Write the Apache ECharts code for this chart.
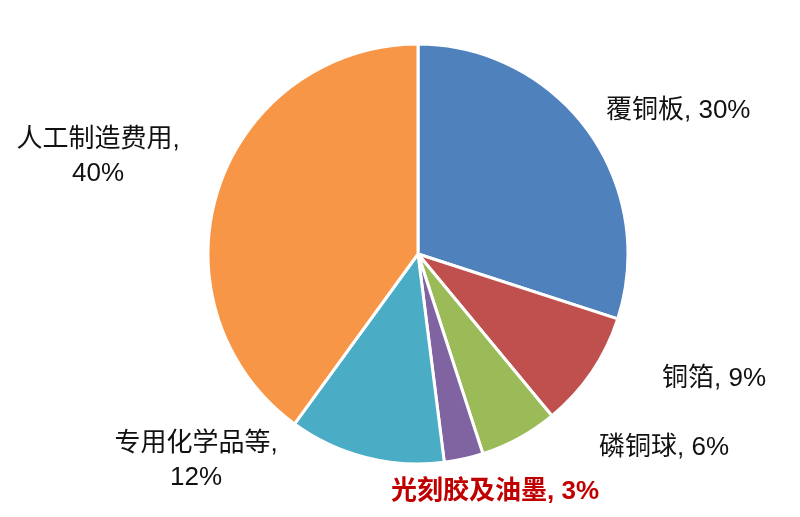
<!DOCTYPE html>
<html><head><meta charset="utf-8">
<script src="https://cdn.jsdelivr.net/npm/echarts@6/dist/echarts.min.js"></script>
<style>html,body{margin:0;padding:0;background:#fff}#c{width:800px;height:517px}</style>
</head><body><div id="c"></div>
<script>
const categories = ['覆铜板', '铜箔', '磷铜球', '光刻胶及油墨', '专用化学品等', '人工制造费用'];
const values = [30, 9, 6, 3, 12, 40];
const colors = ['#4F81BD', '#C0504D', '#9BBB59', '#8064A2', '#4BACC6', '#F79646'];
const breakLine = [false, false, false, false, true, true];
const highlight = [false, false, false, true, false, false];

// label anchor positions (layout only)
const labelPos = [
  {x: 606, y: 111, align: 'left'},
  {x: 662, y: 379, align: 'left'},
  {x: 599, y: 448, align: 'left'},
  {x: 391, y: 492, align: 'left'},
  {x: 196, y: 461, align: 'center'},
  {x: 98, y: 157, align: 'center'}
];

const FONT = '"Liberation Sans", "Noto Sans CJK SC", sans-serif';
const chart = echarts.init(document.getElementById('c'));
chart.setOption({
  animation: false,
  series: [{
    type: 'pie',
    center: [418, 254],
    radius: [0, 210],
    startAngle: 90,
    clockwise: true,
    avoidLabelOverlap: false,
    data: categories.map((n, i) => ({
      name: n, value: values[i],
      itemStyle: {color: colors[i]}
    })),
    itemStyle: {borderColor: '#fff', borderWidth: 3},
    label: {
      show: true,
      position: 'outside',
      overflow: 'none',
      fontFamily: FONT,
      fontSize: 22,
      color: '#000',
      lineHeight: 34,
      rich: {
        c: {fontFamily: FONT, fontSize: 26, color: '#111', lineHeight: 34},
        n: {fontFamily: FONT, fontSize: 26, color: '#111', lineHeight: 34},
        cr: {fontFamily: FONT, fontSize: 26, color: '#C00000', fontWeight: 'bold', lineHeight: 34},
        nr: {fontFamily: FONT, fontSize: 26, color: '#C00000', fontWeight: 'bold', lineHeight: 34}
      },
      formatter: p => {
        const i = p.dataIndex;
        const c = highlight[i] ? 'cr' : 'c', n = highlight[i] ? 'nr' : 'n';
        return '{' + c + '|' + p.name + '}{' + n + '|,}' + (breakLine[i] ? '\n' : '{' + n + '| }') + '{' + n + '|' + p.value + '%}';
      }
    },
    labelLine: {show: false},
    labelLayout: p => ({
      x: labelPos[p.dataIndex].x,
      y: labelPos[p.dataIndex].y,
      align: labelPos[p.dataIndex].align,
      verticalAlign: 'middle'
    }),
    emphasis: {disabled: true}
  }]
});
</script></body></html>
